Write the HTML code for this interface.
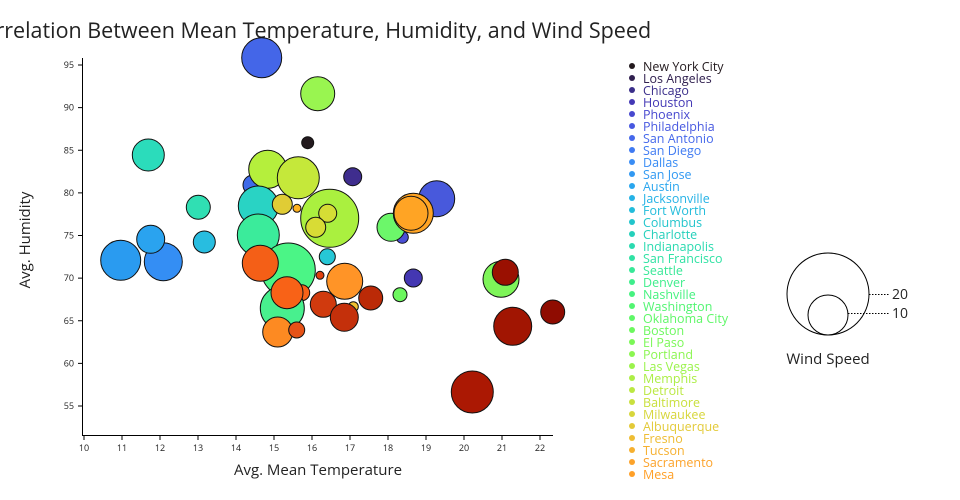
<!DOCTYPE html>
<html><head><meta charset="utf-8"><style>
html,body{margin:0;padding:0;background:#fff;}
svg{display:block;font-family:"Open Sans","Liberation Sans","DejaVu Sans",sans-serif;}
</style></head><body>
<svg width="960" height="500" xmlns="http://www.w3.org/2000/svg">
<text x="-31" y="38" font-size="21.5" fill="#222">Correlation Between Mean Temperature, Humidity, and Wind Speed</text>
<g stroke="#000" stroke-width="1" fill="none">
<line x1="82.5" y1="58" x2="82.5" y2="435.5"/>
<line x1="82" y1="435.5" x2="553" y2="435.5"/>
</g>
<g id="ticks" stroke="#000"></g>
<g id="bub" stroke="#111" stroke-width="1"></g>
<g id="leg" font-size="12.5"></g>
<text x="318" y="475" font-size="15" text-anchor="middle" fill="#222">Avg. Mean Temperature</text>
<text transform="translate(30,240) rotate(-90)" font-size="15" text-anchor="middle" fill="#222">Avg. Humidity</text>
<circle cx="828" cy="294" r="41" fill="#fff" stroke="#000"/>
<circle cx="828" cy="315" r="20" fill="#fff" stroke="#000"/>
<line x1="869" y1="294.5" x2="890" y2="294.5" stroke="#000" stroke-dasharray="1.5,1.5"/>
<line x1="848" y1="313.5" x2="890" y2="313.5" stroke="#000" stroke-dasharray="1.5,1.5"/>
<text x="892" y="299" font-size="14" fill="#222">20</text>
<text x="892" y="318" font-size="14" fill="#222">10</text>
<text x="828" y="364" font-size="15" text-anchor="middle" fill="#222">Wind Speed</text>
</svg>
<script>
var NS="http://www.w3.org/2000/svg";
function el(p,t,a,txt){var e=document.createElementNS(NS,t);for(var k in a)e.setAttribute(k,a[k]);if(txt)e.textContent=txt;p.appendChild(e);return e;}
var tk=document.getElementById('ticks');
for(var v=10;v<=22;v++){var x=84+38*(v-10);el(tk,'line',{x1:x,y1:435,x2:x,y2:440});el(tk,'text',{x:x,y:451,'font-size':9,'text-anchor':'middle',fill:'#222',stroke:'none'},String(v));}
for(var v=55;v<=95;v+=5){var y=406-(v-55)*8.525;el(tk,'line',{x1:78,y1:y,x2:82,y2:y});el(tk,'text',{x:74,y:y+3,'font-size':9,'text-anchor':'end',fill:'#222',stroke:'none'},String(v));}
var B=[
[261.7,57.7,20,'#4466e8'],[317.7,93.7,17,'#99f550'],[307.7,142.7,6,'#231a1e'],[148.3,155,16,'#2bdcbb'],
[253,185,10,'#3f6ae8'],[267.7,169.3,19,'#b5ef3c'],[298.3,177.7,21,'#c5e83a'],[352.7,176.7,9,'#3f2d8e'],
[258.3,206,20,'#29d3c4'],[198.3,207.3,12,'#30dfb3'],[282.3,204.3,10,'#e0cc35'],[297,208.3,4,'#ffb21f'],
[329.7,218.3,29,'#aaf03f'],[327.7,213.3,9,'#d5dd35'],[315.7,227.3,10,'#d8dc35'],
[402.3,237.3,6,'#4a4fd5'],[391,227.3,14,'#6cf76a'],[436.7,198.7,18,'#4859dc'],[413.3,213.3,20,'#ffa424'],[411,213.3,17,'#ffa424'],
[258.3,235,21,'#3beb9b'],[120.7,260.3,20,'#2a9bf0'],[163.3,261.7,19,'#348ef4'],[150.7,239.3,14,'#2aa3ef'],
[204.3,242,11,'#28bde0'],[327.3,256.7,8,'#26c7d6'],[288.3,270,27,'#4bf586'],[260.3,263.3,18,'#f45f17'],
[320,275.3,4,'#e04010'],[344.7,281.3,18,'#ff9427'],[301.7,292.7,8,'#f86217'],[282.3,308.3,22,'#48f08e'],[287,292.7,16,'#f86217'],
[413.3,278,9,'#4437b2'],[501,279.3,18,'#7ef559'],[505.3,272.3,13,'#9a1001'],[370.7,298,12,'#bb2a07'],
[400,294.7,7,'#6cf75e'],[353.3,306.7,5,'#f0c030'],[323.3,304.3,13,'#d03a0e'],[344.3,317.3,14,'#c4300b'],
[512.7,326.3,19,'#a11502'],[552.7,312,12,'#8f0c01'],[277.7,332,15,'#fd8a22'],[296.7,330,8,'#e65216'],
[472.3,392,21,'#ab1803']];
var bg=document.getElementById('bub');
B.forEach(function(b){el(bg,'circle',{cx:b[0],cy:b[1],r:b[2],fill:b[3]});});
var names=["New York City","Los Angeles","Chicago","Houston","Phoenix","Philadelphia","San Antonio","San Diego","Dallas","San Jose","Austin","Jacksonville","Fort Worth","Columbus","Charlotte","Indianapolis","San Francisco","Seattle","Denver","Nashville","Washington","Oklahoma City","Boston","El Paso","Portland","Las Vegas","Memphis","Detroit","Baltimore","Milwaukee","Albuquerque","Fresno","Tucson","Sacramento","Mesa"];
var cols=["#231a1e","#30204f","#3a2e8a","#4338b5","#4748cf","#4758e0","#4568eb","#3f7af2","#3a8df5","#3199f2","#2aa6ee","#25b2e6","#22bcdb","#22c5cc","#25d0bb","#2bdab0","#30e2a4","#38e898","#3fee8c","#46f280","#52f572","#5ff768","#6cf85e","#7bf857","#8bf651","#9bf34c","#acee46","#bbe842","#c9e03e","#d7d63b","#e3ca38","#eebd34","#f6b02f","#fca32b","#ffa028"];
var lg=document.getElementById('leg');
names.forEach(function(n,i){var y=67+12*i;el(lg,'circle',{cx:632,cy:y-1,r:3,fill:cols[i]});el(lg,'text',{x:643,y:y+4,fill:cols[i]},n);});
</script>
</body></html>
